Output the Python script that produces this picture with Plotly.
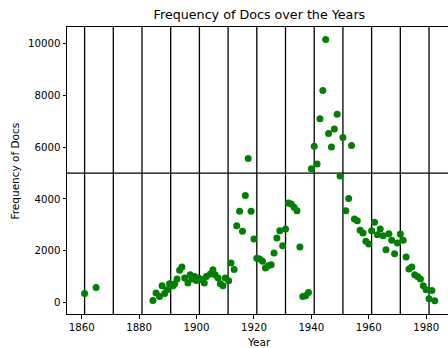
import plotly.graph_objects as go

years = [1861, 1865, 1884.8, 1885.9, 1887.1, 1888.0, 1888.9, 1889.7, 1890.6, 1891.8,
         1892.4, 1893.2, 1894.1, 1894.9, 1895.9, 1897.0, 1897.8, 1898.4, 1899.3, 1899.9,
         1900.7, 1901.9, 1902.7, 1903.4, 1904.8, 1905.7, 1906.5, 1907.5, 1908.3, 1909.2,
         1910.0, 1911.2, 1912.0, 1913.1, 1914, 1915, 1916, 1917, 1918, 1919,
         1920, 1921, 1922, 1923, 1924, 1925, 1926, 1927, 1928, 1929,
         1930, 1931, 1932, 1933, 1934, 1935, 1936, 1937, 1938, 1939,
         1940, 1941, 1942, 1943, 1944, 1945, 1946, 1947, 1948, 1949,
         1950, 1951, 1952, 1953, 1954, 1955, 1956, 1957, 1958, 1959,
         1960, 1961, 1962, 1963, 1964, 1965, 1966, 1967, 1968, 1969,
         1970, 1971, 1972, 1973, 1974, 1975, 1976, 1977, 1978, 1979,
         1980, 1981, 1982, 1983]

docs = [340, 580, 75, 360, 230, 645, 340, 490, 720, 645,
        720, 905, 1240, 1370, 944, 750, 1072, 905, 1006, 851,
        944, 878, 750, 1006, 1099, 1265, 1072, 944, 723, 646,
        944, 839, 1524, 1270, 2967, 3520, 2747, 4128, 5560, 3520,
        2453, 1710, 1677, 1587, 1329, 1419, 1458, 1910, 2491, 2774,
        2193, 2838, 3845, 3806, 3675, 3547, 2143, 232, 259, 387,
        5170, 6035, 5354, 7100, 8190, 10160, 6526, 6012, 6708, 7273,
        4890, 6371, 3547, 4012, 6070, 3225, 3160, 2785, 2683, 2360,
        2258, 2774, 3095, 2619, 2838, 2580, 2039, 2658, 2398, 1884,
        2298, 2646, 2398, 1756, 1292, 1369, 1072, 1006, 905, 646,
        491, 143, 464, 66]

vline_years = [1861, 1871, 1881, 1891, 1901, 1911, 1921, 1931, 1941, 1951, 1961, 1971, 1981]
hline_value = 5000

x_ticks = [1860, 1880, 1900, 1920, 1940, 1960, 1980]
y_ticks = [0, 2000, 4000, 6000, 8000, 10000]

FONT = "DejaVu Sans"

fig = go.Figure()
fig.add_trace(go.Scatter(
    x=years, y=docs, mode="markers",
    marker=dict(color="#008000", size=7, line=dict(width=0)),
    showlegend=False, cliponaxis=True,
))

for vy in vline_years:
    fig.add_vline(x=vy, line=dict(color="black", width=1.3), layer="below")
fig.add_hline(y=hline_value, line=dict(color="black", width=1.3), layer="below")

fig.update_layout(
    width=448, height=348,
    margin=dict(l=67, r=0, t=27, b=34),
    plot_bgcolor="white", paper_bgcolor="white",
    font=dict(family=FONT, size=10, color="black"),
    title=dict(text="Frequency of Docs over the Years", font=dict(family=FONT, size=12.7, color="black"),
               x=0.505, xref="paper", xanchor="center",
               y=1 - 15 / 348, yref="container", yanchor="middle"),
    xaxis=dict(range=[1854.87, 1987.61], tickvals=x_ticks, ticktext=[str(t) for t in x_ticks],
               showgrid=False, zeroline=False, showline=True, linecolor="black", linewidth=1,
               mirror=True, ticks="outside", ticklen=3.5, tickcolor="black", tickwidth=1,
               tickfont=dict(family=FONT, size=10.2, color="black")),
    yaxis=dict(range=[-448, 10646], tickvals=y_ticks, ticktext=[str(t) for t in y_ticks],
               showgrid=False, zeroline=False, showline=True, linecolor="black", linewidth=1,
               mirror=False, ticks="outside", ticklen=3.5, tickcolor="black", tickwidth=1,
               tickfont=dict(family=FONT, size=10.2, color="black")),
    annotations=[
        dict(text="Year", xref="paper", yref="paper", x=(259 - 67) / 381, y=(314.3 - 342) / 287,
             xanchor="center", yanchor="middle", showarrow=False,
             font=dict(family=FONT, size=10.5, color="black")),
        dict(text="Frequency of Docs", xref="paper", yref="paper", x=(14 - 67) / 381, y=0.5,
             xanchor="center", yanchor="middle", showarrow=False, textangle=-90,
             font=dict(family=FONT, size=10.5, color="black")),
    ],
)

fig.write_html("out.html")
